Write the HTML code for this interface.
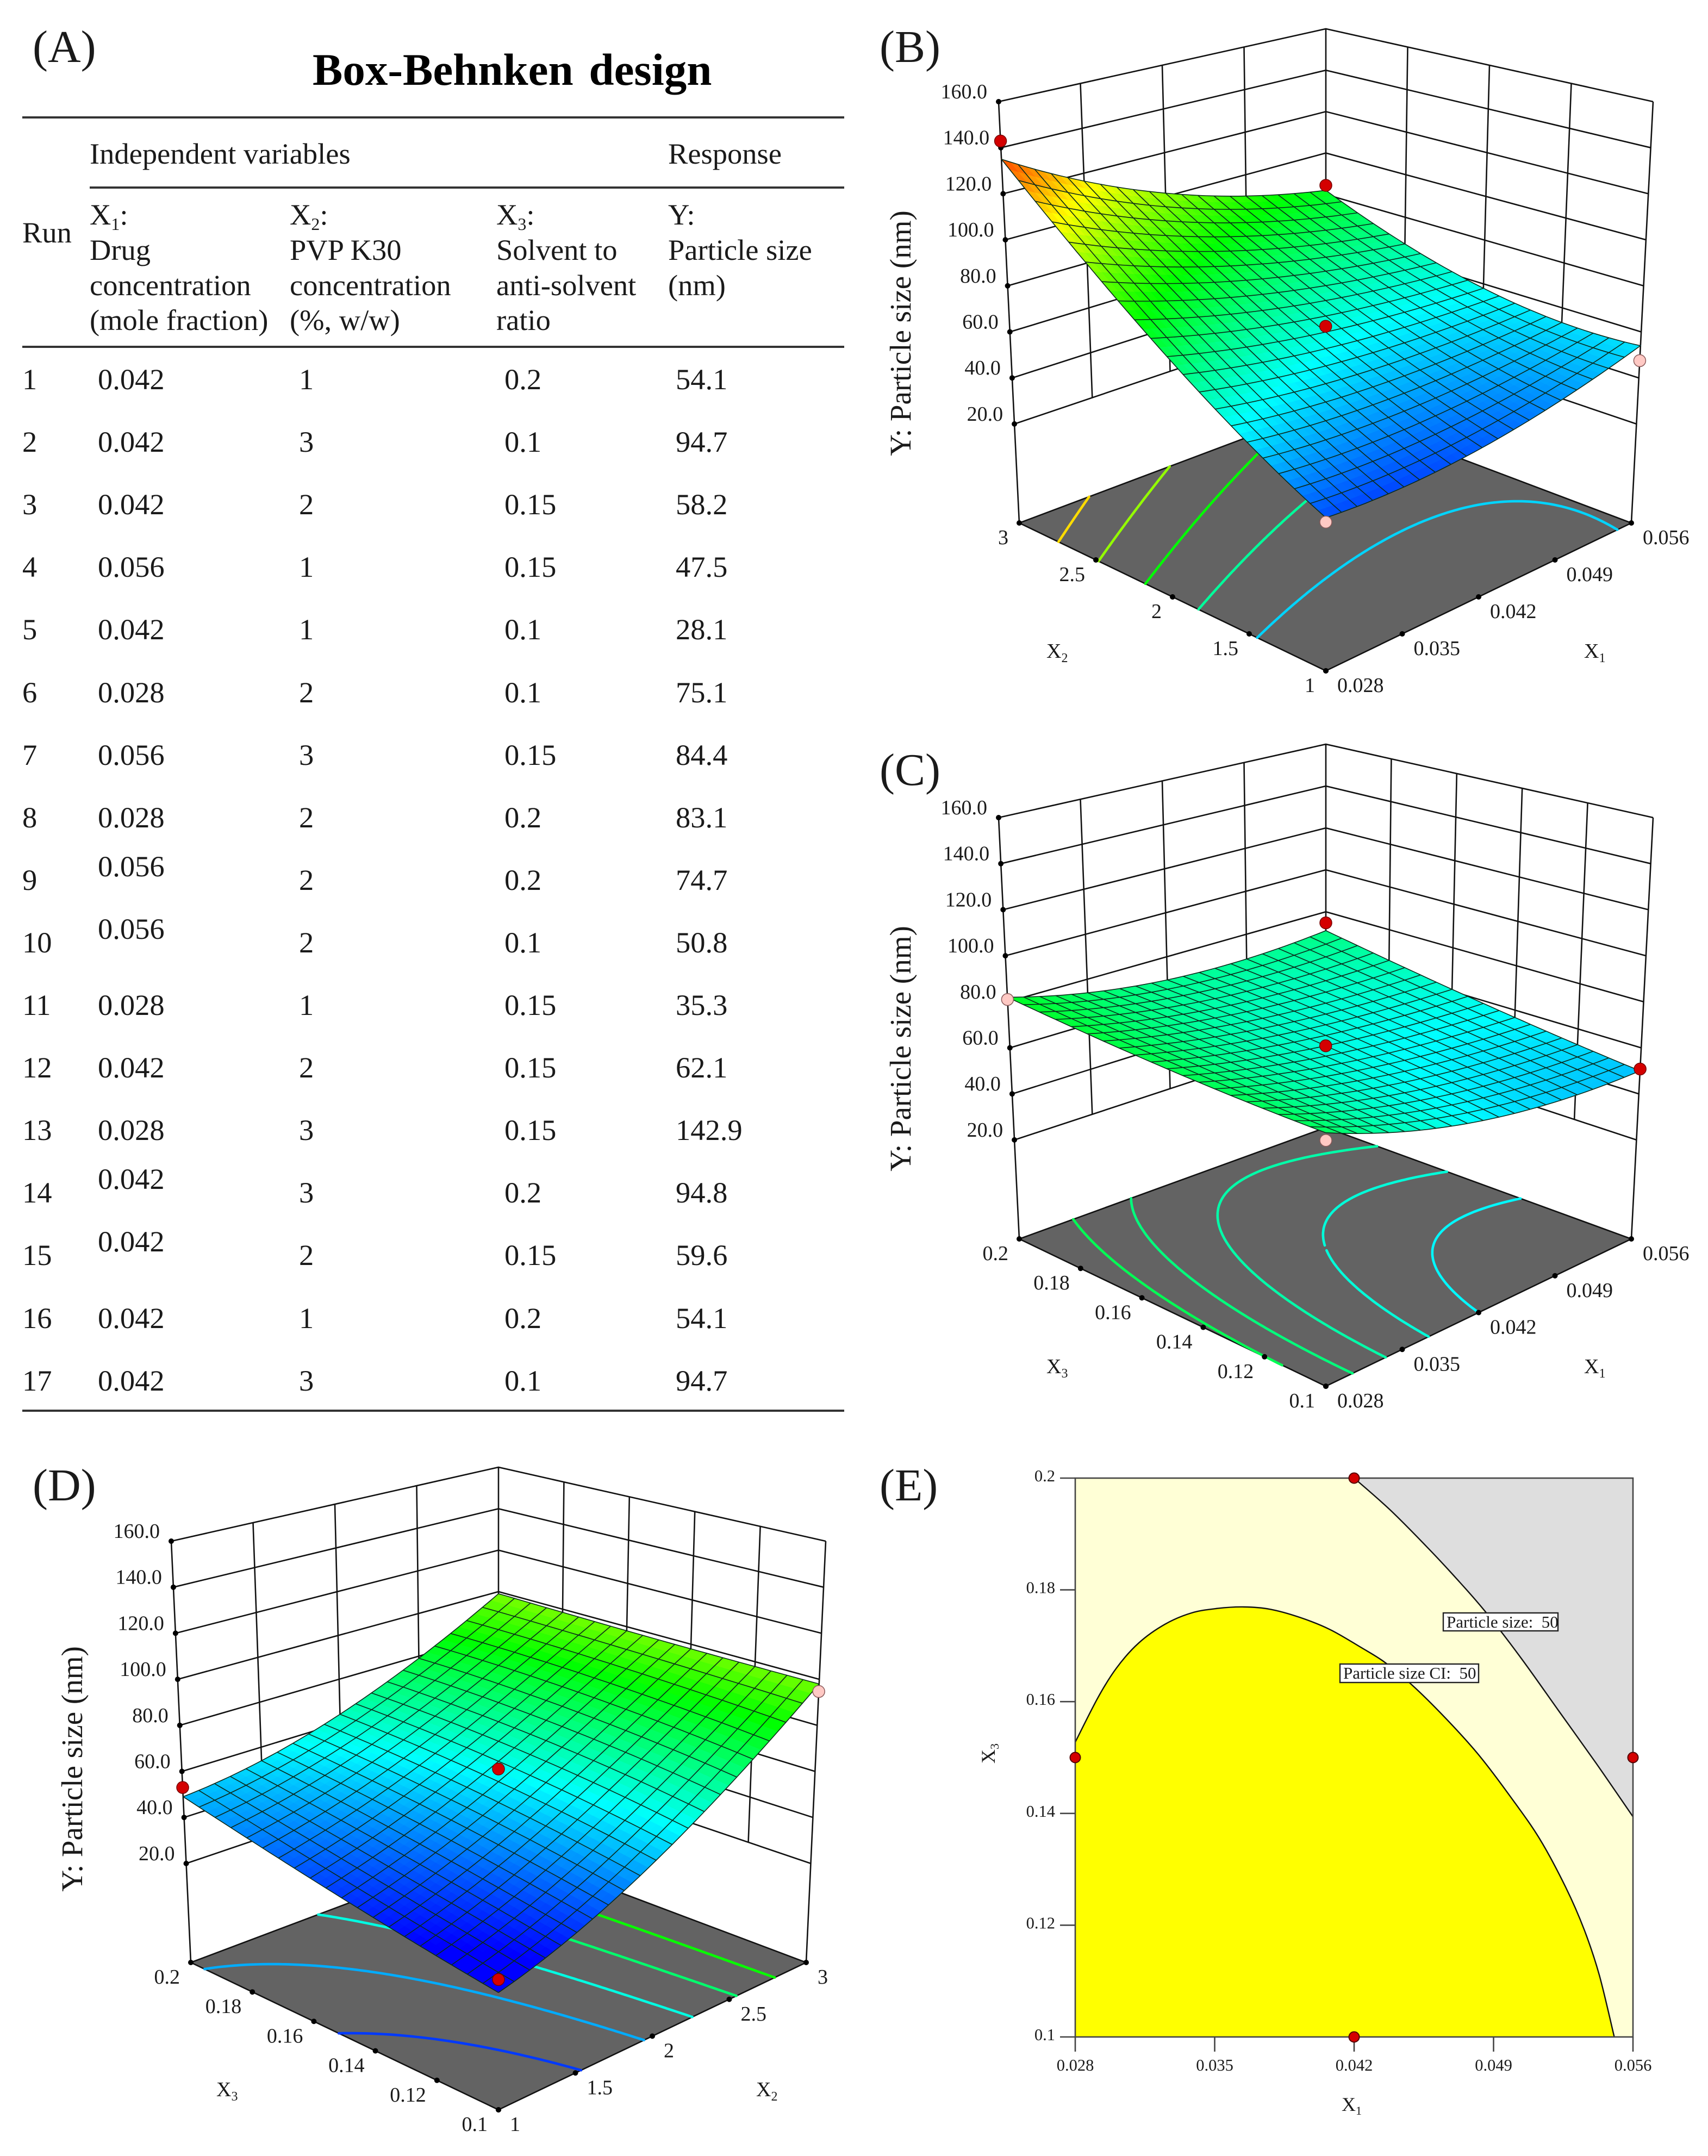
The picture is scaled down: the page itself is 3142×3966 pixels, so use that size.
<!DOCTYPE html>
<html lang="en">
<head>
<meta charset="utf-8">
<title>Box-Behnken design figure</title>
<style>
html,body{margin:0;padding:0;background:#fff;}
svg{display:block;font-family:"Liberation Serif",serif;fill:#1a1a1a;}
.cell{font-size:54.5px;}
.panel-label{font-size:84px;}
.axis-title{font-size:55px;}
.axis-sub{font-size:38px;}
.axis-sub tspan{font-size:24px;}
.cell tspan{font-size:32px;}
.e-title{font-size:36px;}
.e-title tspan{font-size:22px;}
</style>
</head>
<body>
<svg id="figure" xmlns="http://www.w3.org/2000/svg" width="3142" height="3966" viewBox="0 0 3142 3966">
<rect width="3142" height="3966" fill="#ffffff"/>

<g id="panel-a">
<text class="panel-label" x="60" y="114">(A)</text>
<text x="575" y="156" font-size="83" font-weight="bold" fill="#000" word-spacing="8">Box-Behnken design</text>
<line x1="41" x2="1553" y1="216" y2="216" stroke="#333" stroke-width="4"/>
<line x1="165" x2="1553" y1="345" y2="345" stroke="#333" stroke-width="4"/>
<line x1="41" x2="1553" y1="638" y2="638" stroke="#333" stroke-width="4"/>
<line x1="41" x2="1553" y1="2595" y2="2595" stroke="#333" stroke-width="4"/>
<g>
<text class="cell" x="165" y="301">Independent variables</text>
<text class="cell" x="1229" y="301">Response</text>
<text class="cell" x="41" y="446">Run</text>
<text class="cell" x="165" y="413">X<tspan dy="10">1</tspan><tspan dy="-10" style="font-size:54.5px">:</tspan></text>
<text class="cell" x="165" y="478">Drug</text>
<text class="cell" x="165" y="543">concentration</text>
<text class="cell" x="165" y="607">(mole fraction)</text>
<text class="cell" x="533" y="413">X<tspan dy="10">2</tspan><tspan dy="-10" style="font-size:54.5px">:</tspan></text>
<text class="cell" x="533" y="478">PVP K30</text>
<text class="cell" x="533" y="543">concentration</text>
<text class="cell" x="533" y="607">(%, w/w)</text>
<text class="cell" x="913" y="413">X<tspan dy="10">3</tspan><tspan dy="-10" style="font-size:54.5px">:</tspan></text>
<text class="cell" x="913" y="478">Solvent to</text>
<text class="cell" x="913" y="543">anti-solvent</text>
<text class="cell" x="913" y="607">ratio</text>
<text class="cell" x="1229" y="413">Y:</text>
<text class="cell" x="1229" y="478">Particle size</text>
<text class="cell" x="1229" y="543">(nm)</text>
</g>
<g class="cell" transform="translate(0,716)"><text x="41">1</text><text x="180">0.042</text><text x="550">1</text><text x="928">0.2</text><text x="1243">54.1</text></g>
<g class="cell" transform="translate(0,831)"><text x="41">2</text><text x="180">0.042</text><text x="550">3</text><text x="928">0.1</text><text x="1243">94.7</text></g>
<g class="cell" transform="translate(0,946)"><text x="41">3</text><text x="180">0.042</text><text x="550">2</text><text x="928">0.15</text><text x="1243">58.2</text></g>
<g class="cell" transform="translate(0,1061)"><text x="41">4</text><text x="180">0.056</text><text x="550">1</text><text x="928">0.15</text><text x="1243">47.5</text></g>
<g class="cell" transform="translate(0,1176)"><text x="41">5</text><text x="180">0.042</text><text x="550">1</text><text x="928">0.1</text><text x="1243">28.1</text></g>
<g class="cell" transform="translate(0,1292)"><text x="41">6</text><text x="180">0.028</text><text x="550">2</text><text x="928">0.1</text><text x="1243">75.1</text></g>
<g class="cell" transform="translate(0,1407)"><text x="41">7</text><text x="180">0.056</text><text x="550">3</text><text x="928">0.15</text><text x="1243">84.4</text></g>
<g class="cell" transform="translate(0,1522)"><text x="41">8</text><text x="180">0.028</text><text x="550">2</text><text x="928">0.2</text><text x="1243">83.1</text></g>
<g class="cell" transform="translate(0,1637)"><text x="41">9</text><text x="180" y="-25">0.056</text><text x="550">2</text><text x="928">0.2</text><text x="1243">74.7</text></g>
<g class="cell" transform="translate(0,1752)"><text x="41">10</text><text x="180" y="-25">0.056</text><text x="550">2</text><text x="928">0.1</text><text x="1243">50.8</text></g>
<g class="cell" transform="translate(0,1867)"><text x="41">11</text><text x="180">0.028</text><text x="550">1</text><text x="928">0.15</text><text x="1243">35.3</text></g>
<g class="cell" transform="translate(0,1982)"><text x="41">12</text><text x="180">0.042</text><text x="550">2</text><text x="928">0.15</text><text x="1243">62.1</text></g>
<g class="cell" transform="translate(0,2097)"><text x="41">13</text><text x="180">0.028</text><text x="550">3</text><text x="928">0.15</text><text x="1243">142.9</text></g>
<g class="cell" transform="translate(0,2212)"><text x="41">14</text><text x="180" y="-25">0.042</text><text x="550">3</text><text x="928">0.2</text><text x="1243">94.8</text></g>
<g class="cell" transform="translate(0,2327)"><text x="41">15</text><text x="180" y="-25">0.042</text><text x="550">2</text><text x="928">0.15</text><text x="1243">59.6</text></g>
<g class="cell" transform="translate(0,2443)"><text x="41">16</text><text x="180">0.042</text><text x="550">1</text><text x="928">0.2</text><text x="1243">54.1</text></g>
<g class="cell" transform="translate(0,2558)"><text x="41">17</text><text x="180">0.042</text><text x="550">3</text><text x="928">0.1</text><text x="1243">94.7</text></g>
</g>

<g id="panel-b"></g>
<g id="panel-c"></g>
<g id="panel-d"></g>
<g id="panel-e"></g>

<g>
<text class="panel-label" x="1618" y="114">(B)</text>
<text class="panel-label" x="1618" y="1444">(C)</text>
<text class="panel-label" x="60" y="2760">(D)</text>
<text class="panel-label" x="1618" y="2760">(E)</text>
<text class="axis-title" transform="translate(1675,613) rotate(-90)" text-anchor="middle">Y: Particle size (nm)</text>
<text class="axis-title" transform="translate(1675,1929) rotate(-90)" text-anchor="middle">Y: Particle size (nm)</text>
<text class="axis-title" transform="translate(151,3254) rotate(-90)" text-anchor="middle">Y: Particle size (nm)</text>
<text class="axis-sub" x="1925" y="1210">X<tspan dy="8">2</tspan></text>
<text class="axis-sub" x="2914" y="1210">X<tspan dy="8">1</tspan></text>
<text class="axis-sub" x="1925" y="2526">X<tspan dy="8">3</tspan></text>
<text class="axis-sub" x="2914" y="2526">X<tspan dy="8">1</tspan></text>
<text class="axis-sub" x="398" y="3856">X<tspan dy="8">3</tspan></text>
<text class="axis-sub" x="1391" y="3856">X<tspan dy="8">2</tspan></text>
<text class="e-title" x="2468" y="3883">X<tspan dy="7">1</tspan></text>
<text class="e-title" transform="translate(1830,3244) rotate(-90)">X<tspan dy="7">3</tspan></text>
</g>
</svg>

<script>
// ---------- shared axis data ----------
const zTicks = [20, 40, 60, 80, 100, 120, 140, 160];
const zTickLabels = ['20.0', '40.0', '60.0', '80.0', '100.0', '120.0', '140.0', '160.0'];
const x1Ticks = [0.028, 0.035, 0.042, 0.049, 0.056];
const x1TickLabels = ['0.028', '0.035', '0.042', '0.049', '0.056'];
const x2Ticks = [1, 1.5, 2, 2.5, 3];
const x2TickLabels = ['1', '1.5', '2', '2.5', '3'];
const x3Ticks = [0.1, 0.12, 0.14, 0.16, 0.18, 0.2];
const x3TickLabels = ['0.1', '0.12', '0.14', '0.16', '0.18', '0.2'];
const colorStops = [28.1, 56.8, 85.5, 114, 142.9];

// ---------- panel B: Y over X1 (rows) and X2 (columns) at five positions per axis ----------
const surfaceB = [
  [37, 54, 76, 103, 135],
  [36, 48.625, 66.25, 88.875, 116.5],
  [38.5, 46.75, 60, 78.25, 101.5],
  [44.5, 48.375, 57.25, 71.125, 90],
  [54, 53.5, 58, 67.5, 82]
];
const contourLevelsB = [52, 68, 85, 102, 118];
const designX1B = [0.028, 0.028, 0.056, 0.056, 0.042];
const designX2B = [3, 1, 3, 1, 2];
const designYB = [142.9, 35.3, 84.4, 47.5, 62.5];
const designBelowB = [false, true, false, true, false];

// ---------- panel C: Y over X1 (rows) and X3 (columns) ----------
const surfaceC = [
  [76, 76.1875, 77.25, 79.1875, 82],
  [64.25, 65.375, 67.375, 70.25, 74],
  [56, 58.0625, 61, 64.8125, 69.5],
  [51.25, 54.25, 58.125, 62.875, 68.5],
  [50, 53.9375, 58.75, 64.4375, 71]
];
const contourLevelsC = [56, 61, 66.5, 71.5, 76];
const designX1C = [0.028, 0.028, 0.056, 0.056, 0.042];
const designX3C = [0.2, 0.1, 0.2, 0.1, 0.15];
const designYC = [81, 73, 74.7, 50.8, 61];
const designBelowC = [true, true, false, false, false];

// ---------- panel D: Y over X2 (rows) and X3 (columns) ----------
const surfaceD = [
  [23, 28, 34, 41, 49],
  [33.5, 37.2, 41.9, 47.5, 54],
  [49.5, 52.2, 55.5, 59.4, 64],
  [71, 72.8, 74.7, 76.8, 79],
  [98, 97.9, 98, 98.4, 99]
];
const contourLevelsD = [34.5, 47.5, 60, 73.3, 86.3];
const designX2D = [1, 1, 3, 2];
const designX3D = [0.2, 0.1, 0.1, 0.15];
const designYD = [53, 28.1, 94.7, 61];
const designBelowD = [false, false, true, false];

// ---------- panel E: overlay plot ----------
const sizeBoundaryX1 = [0.042, 0.04379, 0.04566, 0.04717, 0.04858, 0.05036, 0.05224, 0.05412, 0.056];
const sizeBoundaryX3 = [0.2, 0.19437, 0.18767, 0.1819, 0.17614, 0.1679, 0.15851, 0.14913, 0.13941];
const ciBoundaryX1 = [0.028, 0.02913, 0.03007, 0.03119, 0.03251, 0.03383, 0.03514, 0.03646, 0.03777, 0.03928, 0.04078, 0.04228, 0.0436, 0.0451, 0.04679, 0.0483, 0.0498, 0.0513, 0.05262, 0.05356, 0.05431, 0.05506];
const ciBoundaryX3 = [0.15275, 0.16066, 0.16602, 0.17051, 0.17386, 0.17587, 0.17668, 0.17695, 0.17654, 0.17507, 0.17292, 0.16984, 0.16689, 0.16234, 0.1563, 0.15027, 0.14323, 0.13553, 0.12681, 0.11911, 0.11106, 0.1];
const designX1E = [0.042, 0.028, 0.056, 0.042];
const designX3E = [0.2, 0.15, 0.15, 0.1];

// ---------- helpers ----------
const NS = 'http://www.w3.org/2000/svg';
function make(tag, geometry, parent) {
  const node = document.createElementNS(NS, tag);
  for (const k in geometry) node.setAttribute(k, geometry[k]);
  parent.appendChild(node);
  return node;
}
const Z_FLOOR = -23, Z_TOP = 160, VIEW_LIFT = 14;
function corner(P, u, v, plane) {
  const f = plane[0], r = plane[1], b = plane[2], l = plane[3];
  return [
    (1 - u) * (1 - v) * f[0] + u * (1 - v) * r[0] + u * v * b[0] + (1 - u) * v * l[0],
    (1 - u) * (1 - v) * f[1] + u * (1 - v) * r[1] + u * v * b[1] + (1 - u) * v * l[1]
  ];
}
function project(P, u, v, z) {
  const a = corner(P, u, v, P.floor), c = corner(P, u, v, P.top);
  const t = (z - Z_FLOOR) / (Z_TOP - Z_FLOOR);
  let y = a[1] + (c[1] - a[1]) * t;
  if (z > Z_FLOOR) {
    const A = 2 * u - 1, B = 2 * v - 1;
    y -= VIEW_LIFT * (1 - A * A) * (1 - B * B);
  }
  return [a[0] + (c[0] - a[0]) * t, y];
}
const NODES = [0, 0.25, 0.5, 0.75, 1];
function basis(x) {
  return NODES.map(function (n, i) {
    let w = 1;
    NODES.forEach(function (m, j) { if (j !== i) w *= (x - m) / (n - m); });
    return w;
  });
}
function surfaceAt(table, u, v) {
  const bu = basis(u), bv = basis(v);
  let z = 0;
  for (let i = 0; i < 5; i++) for (let j = 0; j < 5; j++) z += bu[i] * bv[j] * table[i][j];
  return z;
}
function colorFor(z) {
  const c = [[0, 0, 255], [0, 255, 255], [0, 255, 0], [255, 255, 0], [255, 0, 0]];
  if (z <= colorStops[0]) return 'rgb(0,0,255)';
  for (let i = 0; i < 4; i++) {
    if (z <= colorStops[i + 1]) {
      const t = (z - colorStops[i]) / (colorStops[i + 1] - colorStops[i]);
      return 'rgb(' + [0, 1, 2].map(function (k) { return Math.round(c[i][k] + (c[i + 1][k] - c[i][k]) * t); }).join(',') + ')';
    }
  }
  return 'rgb(255,0,0)';
}
function pts(list) { return list.map(function (p) { return p[0].toFixed(1) + ',' + p[1].toFixed(1); }).join(' '); }

function drawWalls(P, g) {
  const ticksU = P.aTicks.map(function (t) { return (t - P.aTicks[0]) / (P.aTicks[P.aTicks.length - 1] - P.aTicks[0]); });
  const ticksV = P.bTicks.map(function (t) { return (t - P.bTicks[0]) / (P.bTicks[P.bTicks.length - 1] - P.bTicks[0]); });
  zTicks.forEach(function (z) {
    const line = make('polyline', { points: pts([project(P, 0, 1, z), project(P, 1, 1, z), project(P, 1, 0, z)]), fill: 'none', stroke: '#111', 'stroke-width': 2.6 }, g);
    
    
  });
  ticksU.slice(1, -1).forEach(function (u) {
    const a = project(P, u, 1, 160), b = project(P, u, 1, 20);
    const line = make('line', { x1: a[0], y1: a[1], x2: b[0], y2: b[1], stroke: '#111', 'stroke-width': 2.6 }, g);
    
    
  });
  ticksV.slice(1, -1).forEach(function (v) {
    const a = project(P, 1, v, 160), b = project(P, 1, v, 20);
    const line = make('line', { x1: a[0], y1: a[1], x2: b[0], y2: b[1], stroke: '#111', 'stroke-width': 2.6 }, g);
    
    
  });
  [[0, 1], [1, 1], [1, 0]].forEach(function (c) {
    const a = project(P, c[0], c[1], Z_TOP), b = project(P, c[0], c[1], Z_FLOOR);
    const line = make('line', { x1: a[0], y1: a[1], x2: b[0], y2: b[1], stroke: '#111', 'stroke-width': 2.6 }, g);
    
    
  });
}
function drawFloor(P, g) {
  const poly = make('polygon', { points: pts(P.floor), fill: '#636363', stroke: '#111', 'stroke-width': 2.6 }, g);
  
  
}
function drawContours(P, g) {
  const N = 90;
  const grid = [];
  for (let i = 0; i <= N; i++) {
    grid.push([]);
    for (let j = 0; j <= N; j++) grid[i].push(surfaceAt(P.table, i / N, j / N));
  }
  P.levels.forEach(function (level) {
    let d = '';
    function cross(i1, j1, i2, j2) {
      const z1 = grid[i1][j1], z2 = grid[i2][j2];
      const t = (level - z1) / (z2 - z1);
      return project(P, (i1 + (i2 - i1) * t) / N, (j1 + (j2 - j1) * t) / N, Z_FLOOR);
    }
    for (let i = 0; i < N; i++) for (let j = 0; j < N; j++) {
      const hits = [];
      const q = [[i, j, i + 1, j], [i + 1, j, i + 1, j + 1], [i + 1, j + 1, i, j + 1], [i, j + 1, i, j]];
      q.forEach(function (e) {
        if ((grid[e[0]][e[1]] - level) * (grid[e[2]][e[3]] - level) < 0) hits.push(cross(e[0], e[1], e[2], e[3]));
      });
      if (hits.length >= 2) d += 'M' + hits[0][0].toFixed(1) + ' ' + hits[0][1].toFixed(1) + 'L' + hits[1][0].toFixed(1) + ' ' + hits[1][1].toFixed(1);
    }
    const path = make('path', { d: d, fill: 'none', stroke: colorFor(level), 'stroke-width': 4.6, 'stroke-linecap': 'round' }, g);
    
    
  });
}
function drawSurface(P, g) {
  const N = 40;
  for (let i = N - 1; i >= 0; i--) for (let j = N - 1; j >= 0; j--) {
    const u0 = i / N, u1 = (i + 1) / N, v0 = j / N, v1 = (j + 1) / N;
    const z00 = surfaceAt(P.table, u0, v0), z10 = surfaceAt(P.table, u1, v0), z11 = surfaceAt(P.table, u1, v1), z01 = surfaceAt(P.table, u0, v1);
    const fillColor = colorFor((z00 + z10 + z11 + z01) / 4);
    const cell = make('polygon', { points: pts([project(P, u0, v0, z00), project(P, u1, v0, z10), project(P, u1, v1, z11), project(P, u0, v1, z01)]), fill: fillColor, stroke: fillColor, 'stroke-width': 1 }, g);
    
    
  }
  for (let k = 0; k <= 20; k++) {
    const along = [], across = [];
    for (let s = 0; s <= 40; s++) {
      along.push(project(P, k / 20, s / 40, surfaceAt(P.table, k / 20, s / 40)));
      across.push(project(P, s / 40, k / 20, surfaceAt(P.table, s / 40, k / 20)));
    }
    const m1 = make('polyline', { points: pts(along), fill: 'none', stroke: '#0a2a1a', 'stroke-width': 1.6 }, g);
    
    
    const m2 = make('polyline', { points: pts(across), fill: 'none', stroke: '#0a2a1a', 'stroke-width': 1.6 }, g);
    
    
  }
}
function drawTicks(P, g) {
  zTicks.forEach(function (z, i) {
    const p = project(P, 0, 1, z);
    const dot = make('circle', { cx: p[0], cy: p[1], r: 5, fill: '#000' }, g);
    
    
    const t = make('text', { x: p[0] - 21, y: p[1] - 6, 'font-size': 38, 'text-anchor': 'end' }, g);
    t.textContent = zTickLabels[i];
    
    
  });
  const aMin = P.aTicks[0], aMax = P.aTicks[P.aTicks.length - 1];
  P.aTicks.forEach(function (val, i) {
    const p = project(P, (val - aMin) / (aMax - aMin), 0, Z_FLOOR);
    const dot = make('circle', { cx: p[0], cy: p[1], r: 5, fill: '#000' }, g);
    
    
    const t = make('text', { x: p[0] + 21, y: p[1] + 39, 'font-size': 38 }, g);
    t.textContent = P.aLabels[i];
    
    
  });
  const bMin = P.bTicks[0], bMax = P.bTicks[P.bTicks.length - 1];
  P.bTicks.forEach(function (val, i) {
    const p = project(P, 0, (val - bMin) / (bMax - bMin), Z_FLOOR);
    const dot = make('circle', { cx: p[0], cy: p[1], r: 5, fill: '#000' }, g);
    
    
    const t = make('text', { x: p[0] - 20, y: p[1] + 39, 'font-size': 38, 'text-anchor': 'end' }, g);
    t.textContent = P.bLabels[i];
    
    
  });
}
function drawMarkers(P, g) {
  const aMin = P.aTicks[0], aMax = P.aTicks[P.aTicks.length - 1];
  const bMin = P.bTicks[0], bMax = P.bTicks[P.bTicks.length - 1];
  P.markerA.forEach(function (val, i) {
    const p = project(P, (val - aMin) / (aMax - aMin), (P.markerB[i] - bMin) / (bMax - bMin), P.markerZ[i]);
    const dot = make('circle', { cx: p[0], cy: p[1], r: 11, fill: P.markerBelow[i] ? '#ffc9c4' : '#d40000', stroke: P.markerBelow[i] ? '#8a5a5a' : '#700', 'stroke-width': 1.5 }, g);
    
    
  });
}
function drawPanel(P, id) {
  const g = document.getElementById(id);
  drawWalls(P, g);
  drawFloor(P, g);
  drawContours(P, g);
  drawSurface(P, g);
  drawTicks(P, g);
  drawMarkers(P, g);
}

// plane corners are listed front, right, back, left
drawPanel({
  floor: [[2439, 1234], [3001, 962], [2439, 750], [1875, 962]],
  top: [[2439, 375], [3041, 187], [2439, 53], [1837, 187]],
  table: surfaceB, levels: contourLevelsB,
  aTicks: x1Ticks, aLabels: x1TickLabels, bTicks: x2Ticks, bLabels: x2TickLabels,
  markerA: designX1B, markerB: designX2B, markerZ: designYB, markerBelow: designBelowB
}, 'panel-b');
drawPanel({
  floor: [[2439, 2550], [3001, 2279], [2439, 2074], [1875, 2279]],
  top: [[2439, 1688], [3041, 1504], [2439, 1369], [1837, 1504]],
  table: surfaceC, levels: contourLevelsC,
  aTicks: x1Ticks, aLabels: x1TickLabels, bTicks: x3Ticks, bLabels: x3TickLabels,
  markerA: designX1C, markerB: designX3C, markerZ: designYC, markerBelow: designBelowC
}, 'panel-c');
drawPanel({
  floor: [[917, 3881], [1483, 3610], [917, 3397], [351, 3610]],
  top: [[917, 3023], [1519, 2835], [917, 2699], [315, 2835]],
  table: surfaceD, levels: contourLevelsD,
  aTicks: x2Ticks, aLabels: x2TickLabels, bTicks: x3Ticks, bLabels: x3TickLabels,
  markerA: designX2D, markerB: designX3D, markerZ: designYD, markerBelow: designBelowD
}, 'panel-d');

// ---------- panel E ----------
(function () {
  const g = document.getElementById('panel-e');
  const LEFT = 1978, RIGHT = 3004, TOP = 2719, BOTTOM = 3747;
  function sx(v) { return LEFT + (v - 0.028) / 0.028 * (RIGHT - LEFT); }
  function sy(v) { return BOTTOM - (v - 0.1) / 0.1 * (BOTTOM - TOP); }
  function curve(xs, ys) {
    const p = xs.map(function (x, i) { return [sx(x), sy(ys[i])]; });
    let d = '';
    for (let i = 0; i < p.length - 1; i++) {
      const a = p[Math.max(i - 1, 0)], b = p[i], c = p[i + 1], e = p[Math.min(i + 2, p.length - 1)];
      d += 'C' + (b[0] + (c[0] - a[0]) / 6).toFixed(1) + ' ' + (b[1] + (c[1] - a[1]) / 6).toFixed(1) + ' ' +
        (c[0] - (e[0] - b[0]) / 6).toFixed(1) + ' ' + (c[1] - (e[1] - b[1]) / 6).toFixed(1) + ' ' + c[0].toFixed(1) + ' ' + c[1].toFixed(1);
    }
    return { start: p[0], d: d };
  }
  const bg = make('rect', { x: LEFT, y: TOP, width: RIGHT - LEFT, height: BOTTOM - TOP, fill: '#ffffd6' }, g);
  
  
  const outer = curve(sizeBoundaryX1, sizeBoundaryX3);
  const grey = make('path', { d: 'M' + outer.start.join(' ') + outer.d + 'L' + RIGHT + ' ' + TOP + 'Z', fill: '#dedede' }, g);
  
  
  const inner = curve(ciBoundaryX1, ciBoundaryX3);
  const yellow = make('path', { d: 'M' + inner.start.join(' ') + inner.d + 'L' + LEFT + ' ' + BOTTOM + 'Z', fill: '#ffff00' }, g);
  
  
  const l1 = make('path', { d: 'M' + outer.start.join(' ') + outer.d, fill: 'none', stroke: '#111', 'stroke-width': 2.4 }, g);
  
  
  const l2 = make('path', { d: 'M' + inner.start.join(' ') + inner.d, fill: 'none', stroke: '#111', 'stroke-width': 2.4 }, g);
  
  
  const frame = make('rect', { x: LEFT, y: TOP, width: RIGHT - LEFT, height: BOTTOM - TOP, fill: 'none', stroke: '#444', 'stroke-width': 2.6 }, g);
  
  
  x1Ticks.forEach(function (v, i) {
    const tick = make('line', { x1: sx(v), x2: sx(v), y1: BOTTOM, y2: BOTTOM + 27, stroke: '#444', 'stroke-width': 2.6 }, g);
    
    
    const t = make('text', { x: sx(v), y: BOTTOM + 62, 'font-size': 30.5, 'text-anchor': 'middle' }, g);
    t.textContent = x1TickLabels[i];
    
    
  });
  x3Ticks.forEach(function (v, i) {
    const tick = make('line', { x1: LEFT - 28, x2: LEFT, y1: sy(v), y2: sy(v), stroke: '#444', 'stroke-width': 2.6 }, g);
    
    
    const t = make('text', { x: LEFT - 37, y: sy(v) + 6, 'font-size': 30.5, 'text-anchor': 'end' }, g);
    t.textContent = x3TickLabels[i];
    
    
  });
  designX1E.forEach(function (v, i) {
    const dot = make('circle', { cx: sx(v), cy: sy(designX3E[i]), r: 9.5, fill: '#d40000', stroke: '#500', 'stroke-width': 2 }, g);
    
    
  });
  const box1 = make('rect', { x: 2655, y: 2967, width: 211, height: 33, fill: '#fff', stroke: '#222', 'stroke-width': 2.4 }, g);
  
  
  const txt1 = make('text', { x: 2661, y: 2994, 'font-size': 31 }, g);
  txt1.textContent = 'Particle size:\u00A0 50';
  
  
  const box2 = make('rect', { x: 2465, y: 3061, width: 255, height: 34, fill: '#fff', stroke: '#222', 'stroke-width': 2.4 }, g);
  
  
  const txt2 = make('text', { x: 2471, y: 3088, 'font-size': 31 }, g);
  txt2.textContent = 'Particle size CI:\u00A0 50';
  
  
})();
</script>
</body>
</html>
